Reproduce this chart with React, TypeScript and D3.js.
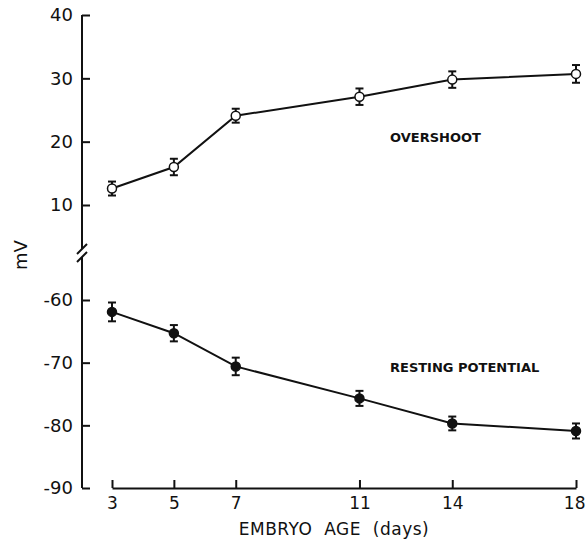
import React, { useEffect, useRef } from 'react';
import * as d3 from 'd3';

// embryo age (days)
const days = [3, 5, 7, 11, 14, 18];

// overshoot (mV), open circles
const overshoot = [12.6, 16.0, 24.1, 27.1, 29.8, 30.7];
const overshootErr = [1.1, 1.3, 1.1, 1.3, 1.3, 1.4];

// resting potential (mV), filled circles
const resting = [-61.9, -65.3, -70.6, -75.7, -79.7, -80.9];
const restingErr = [1.5, 1.3, 1.4, 1.2, 1.1, 1.2];

const upperTicks = [10, 20, 30, 40];
const lowerTicks = [-90, -80, -70, -60];

const W = 586;
const H = 548;
const FONT = '"DejaVu Sans", sans-serif';

export default function App() {
  const svgRef = useRef<SVGSVGElement>(null);

  useEffect(() => {
    if (!svgRef.current) return;
    const svg = d3.select(svgRef.current);
    svg.selectAll('*').remove();

    const axisX = 82;
    const x = d3.scaleLinear().domain([3, 18]).range([112, 576]);
    // broken y axis: two pieces with the same mV/px
    const yTop = d3.scaleLinear().domain([10, 40]).range([205, 15]);
    const yBot = d3.scaleLinear().domain([-90, -60]).range([488, 300]);
    const breakTop = 249;
    const breakBot = 257;

    const ink = '#111';

    // y axis pieces
    const yTopAxis = d3.axisLeft(yTop).tickValues(upperTicks).tickSize(-8).tickPadding(9)
      .tickFormat(d => String(d));
    const yBotAxis = d3.axisLeft(yBot).tickValues(lowerTicks).tickSize(-8).tickPadding(9)
      .tickFormat(d => String(d));

    [yTopAxis, yBotAxis].forEach(ax => {
      svg.append('g')
        .attr('transform', `translate(${axisX},0)`)
        .call(ax)
        .call(g => g.select('.domain').remove())
        .call(g => g.selectAll('.tick line').attr('stroke', ink).attr('stroke-width', 2))
        .call(g => g.selectAll('.tick text')
          .attr('fill', ink)
          .style('font-family', FONT)
          .style('font-size', '18px'));
    });

    svg.append('line')
      .attr('x1', axisX).attr('x2', axisX)
      .attr('y1', yTop(40)).attr('y2', breakTop)
      .attr('stroke', ink).attr('stroke-width', 2);
    svg.append('line')
      .attr('x1', axisX).attr('x2', axisX)
      .attr('y1', breakBot).attr('y2', yBot(-90))
      .attr('stroke', ink).attr('stroke-width', 2);

    // break marks
    [breakTop, breakBot].forEach(yy => {
      svg.append('line')
        .attr('x1', axisX - 5).attr('y1', yy + 5)
        .attr('x2', axisX + 5).attr('y2', yy - 5)
        .attr('stroke', ink).attr('stroke-width', 2);
    });

    // x axis
    svg.append('g')
      .attr('transform', `translate(0,${yBot(-90)})`)
      .call(d3.axisBottom(x).tickValues(days).tickSize(-8).tickSizeOuter(0).tickPadding(9)
        .tickFormat(d => String(d)))
      .call(g => g.select('.domain').attr('stroke', ink).attr('stroke-width', 2))
      .call(g => g.selectAll('.tick line').attr('stroke', ink).attr('stroke-width', 2))
      .call(g => g.selectAll('.tick text')
        .attr('fill', ink)
        .style('font-family', FONT)
        .style('font-size', '17px'))
      // last label sits against the right edge
      .call(g => g.selectAll<SVGTextElement, number>('.tick text')
        .filter(d => d === days[days.length - 1])
        .attr('text-anchor', 'end')
        .attr('x', 9));

    // axis titles
    svg.append('text')
      .attr('x', 334).attr('y', 535)
      .attr('text-anchor', 'middle')
      .attr('fill', ink)
      .style('font-family', FONT)
      .style('font-size', '17px')
      .style('letter-spacing', '0.5px')
      .attr('xml:space', 'preserve')
      .text('EMBRYO  AGE  (days)');

    svg.append('text')
      .attr('transform', `translate(27,255) rotate(-90)`)
      .attr('text-anchor', 'middle')
      .attr('fill', ink)
      .style('font-family', FONT)
      .style('font-size', '18px')
      .text('mV');

    const drawSeries = (
      vals: number[], errs: number[], y: d3.ScaleLinear<number, number>, filled: boolean
    ) => {
      const line = d3.line<number>()
        .x((_, i) => x(days[i]))
        .y(d => y(d));
      svg.append('path')
        .attr('d', line(vals))
        .attr('fill', 'none')
        .attr('stroke', ink)
        .attr('stroke-width', 2);

      const g = svg.append('g');
      vals.forEach((v, i) => {
        const cx = x(days[i]);
        const hi = y(v + errs[i]);
        const lo = y(v - errs[i]);
        g.append('line').attr('x1', cx).attr('x2', cx).attr('y1', hi).attr('y2', lo)
          .attr('stroke', ink).attr('stroke-width', 2);
        [hi, lo].forEach(yy => {
          g.append('line').attr('x1', cx - 4).attr('x2', cx + 4).attr('y1', yy).attr('y2', yy)
            .attr('stroke', ink).attr('stroke-width', 2);
        });
        g.append('circle')
          .attr('cx', cx).attr('cy', y(v)).attr('r', 4.5)
          .attr('fill', filled ? ink : '#fff')
          .attr('stroke', ink).attr('stroke-width', 1.5);
      });
    };

    drawSeries(overshoot, overshootErr, yTop, false);
    drawSeries(resting, restingErr, yBot, true);

    // series labels
    svg.append('text')
      .attr('x', 390).attr('y', 142)
      .attr('fill', ink)
      .style('font-family', FONT)
      .style('font-size', '13px')
      .style('font-weight', 'bold')
      .text('OVERSHOOT');
    svg.append('text')
      .attr('x', 390).attr('y', 372)
      .attr('fill', ink)
      .style('font-family', FONT)
      .style('font-size', '13px')
      .style('font-weight', 'bold')
      .text('RESTING POTENTIAL');
  }, []);

  return (
    <svg
      ref={svgRef}
      width={W}
      height={H}
      style={{ position: 'absolute', left: 0, top: 0, background: '#fff' }}
    />
  );
}
